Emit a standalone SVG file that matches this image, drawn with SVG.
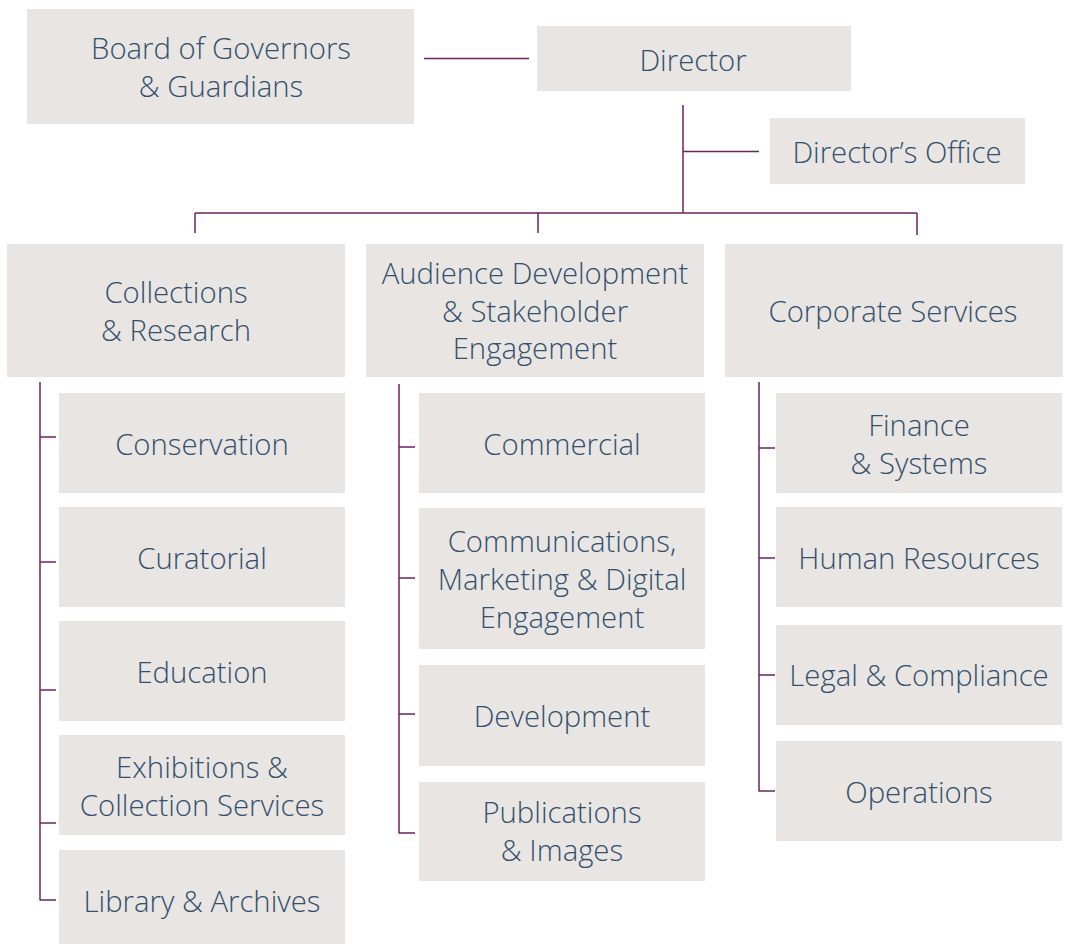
<svg xmlns="http://www.w3.org/2000/svg" width="1068" height="944" viewBox="0 0 1068 944">
<style>
.box{fill:#e8e5e2}
.t{font-family:"Open Sans","Liberation Sans",sans-serif;font-weight:300;font-size:29.3px;fill:#33506e;text-anchor:middle}
.c line{stroke:#6a2262;stroke-width:1.5;fill:none}
</style>
<rect width="1068" height="944" fill="#ffffff"/>
<g class="c" id="connectors">
<line x1="424" y1="58.5" x2="529" y2="58.5"/>
<line x1="683" y1="105" x2="683" y2="213"/>
<line x1="683" y1="151.5" x2="759" y2="151.5"/>
<line x1="195" y1="213" x2="917" y2="213"/>
<line x1="195" y1="213" x2="195" y2="233"/>
<line x1="538" y1="213" x2="538" y2="233"/>
<line x1="917" y1="213" x2="917" y2="235"/>
<line x1="40" y1="382" x2="40" y2="900.5"/>
<line x1="40" y1="437" x2="56" y2="437"/>
<line x1="40" y1="562" x2="56" y2="562"/>
<line x1="40" y1="690" x2="56" y2="690"/>
<line x1="40" y1="823" x2="56" y2="823"/>
<line x1="40" y1="900" x2="56" y2="900"/>
<line x1="399" y1="384" x2="399" y2="833.5"/>
<line x1="399" y1="447" x2="415" y2="447"/>
<line x1="399" y1="578" x2="415" y2="578"/>
<line x1="399" y1="714" x2="415" y2="714"/>
<line x1="399" y1="833" x2="415" y2="833"/>
<line x1="759" y1="382" x2="759" y2="791.5"/>
<line x1="759" y1="448" x2="775" y2="448"/>
<line x1="759" y1="558" x2="775" y2="558"/>
<line x1="759" y1="675" x2="775" y2="675"/>
<line x1="759" y1="791" x2="775" y2="791"/>
</g>
<g id="board"><rect class="box" x="27" y="9" width="387" height="115"/><text class="t" x="221" y="59">Board of Governors</text><text class="t" x="221" y="97">&amp; Guardians</text></g>
<g id="director"><rect class="box" x="537" y="26" width="314" height="65"/><text class="t" x="693" y="71">Director</text></g>
<g id="directors-office"><rect class="box" x="770" y="118" width="255" height="66"/><text class="t" x="897" y="163">Director’s Office</text></g>
<g id="collections"><rect class="box" x="7" y="244" width="338" height="133"/><text class="t" x="176" y="303">Collections</text><text class="t" x="176" y="341">&amp; Research</text></g>
<g id="audience"><rect class="box" x="366" y="244" width="338" height="133"/><text class="t" x="535" y="284">Audience Development</text><text class="t" x="535" y="322">&amp; Stakeholder</text><text class="t" x="535" y="359">Engagement</text></g>
<g id="corporate"><rect class="box" x="725" y="244" width="338" height="133"/><text class="t" x="893" y="322">Corporate Services</text></g>
<g id="conservation"><rect class="box" x="59" y="393" width="286" height="100"/><text class="t" x="202" y="455">Conservation</text></g>
<g id="curatorial"><rect class="box" x="59" y="507" width="286" height="100"/><text class="t" x="202" y="569">Curatorial</text></g>
<g id="education"><rect class="box" x="59" y="621" width="286" height="100"/><text class="t" x="202" y="683">Education</text></g>
<g id="exhibitions"><rect class="box" x="59" y="735" width="286" height="100"/><text class="t" x="202" y="778">Exhibitions &amp;</text><text class="t" x="202" y="816">Collection Services</text></g>
<g id="library"><rect class="box" x="59" y="850" width="286" height="94"/><text class="t" x="202" y="912">Library &amp; Archives</text></g>
<g id="commercial"><rect class="box" x="419" y="393" width="286" height="100"/><text class="t" x="562" y="455">Commercial</text></g>
<g id="communications"><rect class="box" x="419" y="508" width="286" height="141"/><text class="t" x="562" y="552">Communications,</text><text class="t" x="562" y="590">Marketing &amp; Digital</text><text class="t" x="562" y="628">Engagement</text></g>
<g id="development"><rect class="box" x="419" y="665" width="286" height="101"/><text class="t" x="562" y="727">Development</text></g>
<g id="publications"><rect class="box" x="419" y="782" width="286" height="99"/><text class="t" x="562" y="823">Publications</text><text class="t" x="562" y="861">&amp; Images</text></g>
<g id="finance"><rect class="box" x="776" y="393" width="286" height="100"/><text class="t" x="919" y="436">Finance</text><text class="t" x="919" y="474">&amp; Systems</text></g>
<g id="hr"><rect class="box" x="776" y="507" width="286" height="100"/><text class="t" x="919" y="569">Human Resources</text></g>
<g id="legal"><rect class="box" x="776" y="625" width="286" height="100"/><text class="t" x="919" y="686">Legal &amp; Compliance</text></g>
<g id="operations"><rect class="box" x="776" y="741" width="286" height="100"/><text class="t" x="919" y="803">Operations</text></g>
</svg>
